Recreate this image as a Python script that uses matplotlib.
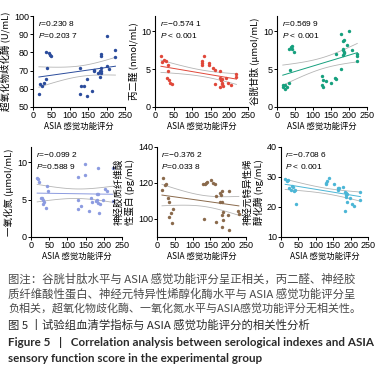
import numpy as np
import matplotlib
matplotlib.use("Agg")
import matplotlib.pyplot as plt

plt.rcParams['font.family'] = ['Noto Sans CJK SC', 'DejaVu Sans']
plt.rcParams['mathtext.fontset'] = 'custom'
plt.rcParams['mathtext.it'] = 'Liberation Sans:italic'
plt.rcParams['axes.unicode_minus'] = False

# data: ASIA score (x) vs serum marker (y)
sod_x = [16, 20, 25, 30, 36, 39, 35, 44, 46, 49, 129, 130, 138, 128, 147, 148, 159, 165, 166,
         177, 182, 184, 186, 182, 186, 186, 186, 200, 200, 207, 224, 222]
sod_y = [57, 62.4, 61.7, 63.3, 65.3, 71.2, 80, 79.7, 78.6, 78, 71.2, 61.3, 61.3, 57.2, 56, 65.5,
         59, 70.1, 69.6, 68.7, 69.6, 68.5, 69.8, 66.7, 71.6, 79.3, 78.2, 89, 72.5, 71, 81.3, 77.2]

mda_x = [16, 20, 25, 29, 34, 36, 31, 37, 40, 45, 125, 125, 125, 132, 144, 146, 155, 160, 160,
         176, 175, 177, 179, 178, 181, 180, 182, 176, 192, 195, 204, 219, 219]
mda_y = [6.7, 6.0, 6.2, 6.1, 5.5, 4.7, 3.8, 3.6, 3.2, 3.0, 6.1, 5.8, 5.6, 6.7, 5.8, 5.6, 5.2, 4.9,
         3.0, 4.7, 3.8, 3.6, 3.7, 3.5, 3.2, 3.0, 2.8, 2.6, 3.8, 3.2, 2.9, 3.9, 4.3]

gsh_x = [16, 18, 23, 27, 21, 33, 36, 32, 38, 41, 42, 46, 126, 128, 126, 129, 135, 149, 161, 163,
         163, 177, 179, 182, 184, 186, 183, 185, 184, 186, 200, 195, 207, 222, 223, 221]
gsh_y = [2.95, 2.7, 2.4, 2.7, 2.9, 3.2, 4.9, 7.6, 7.9, 8.0, 7.7, 7.2, 4.1, 3.5, 2.9, 2.7, 3.4, 3.1,
         3.8, 3.7, 7.0, 9.6, 5.0, 7.5, 7.7, 7.2, 6.9, 7.1, 8.7, 8.8, 10.0, 8.2, 7.5, 6.7, 6.1, 7.0]

no_x = [17, 20, 23, 27, 31, 34, 36, 32, 40, 43, 48, 128, 128, 128, 138, 149, 149, 160, 165, 168,
        178, 181, 185, 184, 180, 190, 183, 186, 199, 202, 209, 224, 224]
no_y = [7.9, 7.8, 7.3, 5.2, 5.2, 4.9, 4.7, 4.4, 3.9, 6.8, 6.1, 8.0, 5.0, 3.7, 4.1, 9.8, 8.3, 3.5,
        5.2, 4.7, 4.8, 4.9, 4.5, 5.7, 5.7, 4.4, 9.2, 3.2, 5.0, 6.4, 6.1, 9.2, 4.8]

gfap_x = [16, 14, 22, 25, 31, 33, 33, 38, 45, 42, 129, 134, 137, 140, 152, 156, 162, 166, 178,
          183, 181, 178, 183, 186, 183, 185, 183, 166, 202, 200, 202, 228, 230, 131]
gfap_y = [123, 116, 118.8, 119.7, 111.8, 109.6, 101, 103.1, 105.3, 97.6, 119.7, 119.4, 120.1,
          120.6, 121.6, 120.1, 119.2, 112.7, 114.7, 115.5, 113.3, 109.6, 109.2, 104.1, 102.2,
          99.4, 95.8, 98.5, 115.7, 102.2, 93.9, 104.6, 102.8, 100]

nse_x = [12, 17, 21, 24, 28, 36, 40, 31, 34, 43, 130, 132, 129, 138, 151, 163, 165, 167, 178,
         185, 187, 189, 186, 188, 191, 185, 199, 204, 211, 228, 226]
nse_y = [29.2, 28.8, 29.0, 26.2, 25.7, 25.4, 25.7, 27.1, 26.8, 20.9, 28.1, 28.6, 27.7, 29.7, 27.7,
         26.2, 25.7, 26.4, 26.8, 25.1, 24.8, 24.3, 24.0, 23.5, 21.8, 18.8, 22.9, 20.9, 20.2, 24.9,
         22.4]

r_texts = ['0.230 8', '\u22120.574 1', '0.569 9', '\u22120.099 2', '\u22120.376 2', '\u22120.708 6']
p_texts = ['=0.203 7', ' < 0.001', ' < 0.001', '=0.588 9', '=0.033 8', ' < 0.001']
y_labels = ['超氧化物歧化酶 (U/mL)', '丙二醛 (nmol/mL)', '谷胱甘肽 (μmol/mL)',
            '一氧化氮 (μmol/mL)', '神经胶质纤维酸\n性蛋白 (pg/mL)', '神经元特异性烯\n醇化酶 (ng/mL)']
y_ranges = [(50, 100), (0, 12), (0, 12), (0, 12), (90, 140), (10, 40)]
y_ticks = [[50, 60, 70, 80, 90, 100], [0, 5, 10], [0, 5, 10], [0, 5, 10], [100, 120, 140],
           [10, 20, 30, 40]]
colors = ['#2b4c9c', '#e0483a', '#16a07e', '#8c9be0', '#8a6a4c', '#4cb6d6']
xs = [sod_x, mda_x, gsh_x, no_x, gfap_x, nse_x]
ys = [sod_y, mda_y, gsh_y, no_y, gfap_y, nse_y]

# axes boxes in pixels (left, top, right, bottom)
boxes = [(33, 16, 125, 107), (155, 16, 248, 107), (277, 16, 367, 107),
         (31, 147, 122, 237), (157, 147, 246, 237), (281, 147, 368, 237)]

W, H = 391, 371
fig = plt.figure(figsize=(W / 100, H / 100), dpi=100)

for i in range(6):
    l, t, r, b = boxes[i]
    ax = fig.add_axes([l / W, 1 - b / H, (r - l) / W, (b - t) / H])
    x = np.array(xs[i], float)
    y = np.array(ys[i], float)
    ax.scatter(x, y, s=6, color=colors[i], linewidths=0, zorder=3)

    # linear fit with 95% confidence band
    n = len(x)
    k, c = np.polyfit(x, y, 1)
    xx = np.linspace(x.min(), x.max(), 100)
    yy = k * xx + c
    s = np.sqrt(np.sum((y - (k * x + c)) ** 2) / (n - 2))
    sxx = np.sum((x - x.mean()) ** 2)
    half = 2.04 * s * np.sqrt(1 / n + (xx - x.mean()) ** 2 / sxx)
    ax.plot(xx, yy, color=colors[i], lw=0.7, zorder=2)
    ax.plot(xx, yy + half, color='#b5b5b5', lw=0.6, zorder=1)
    ax.plot(xx, yy - half, color='#b5b5b5', lw=0.6, zorder=1)

    ax.set_xlim(0, 250)
    ax.set_ylim(*y_ranges[i])
    ax.set_xticks([0, 50, 100, 150, 200, 250])
    ax.set_yticks(y_ticks[i])
    for sp in ['top', 'right']:
        ax.spines[sp].set_visible(False)
    for sp in ['left', 'bottom']:
        ax.spines[sp].set_linewidth(0.8)
    ax.tick_params(labelsize=6.5, length=2, width=0.7, pad=1)
    for lab in ax.get_xticklabels() + ax.get_yticklabels():
        lab.set_family(['Liberation Sans', 'DejaVu Sans'])
    ax.set_xlabel('ASIA 感觉功能评分', fontsize=6, labelpad=1)
    ax.set_ylabel(y_labels[i], fontsize=6.8, labelpad=2, linespacing=1.1)

    ax.text(0.05, 0.97, '$r$=' + r_texts[i], transform=ax.transAxes, fontsize=6,
            va='top', family=['Liberation Sans', 'DejaVu Sans'])
    ax.text(0.05, 0.83, '$P$' + p_texts[i], transform=ax.transAxes, fontsize=6,
            va='top', family=['Liberation Sans', 'DejaVu Sans'])

# caption
note = ['图注：谷胱甘肽水平与 ASIA 感觉功能评分呈正相关，丙二醛、神经胶',
        '质纤维酸性蛋白、神经元特异性烯醇化酶水平与 ASIA 感觉功能评分呈',
        '负相关，超氧化物歧化酶、一氧化氮水平与ASIA感觉功能评分无相关性。']
note_sizes = [8.2, 8.2, 7.9]
for j, line in enumerate(note):
    fig.text(8 / W, 1 - (279 + 14.5 * j) / H, line, fontsize=note_sizes[j], color='#4a4a4a',
             va='center')
fig.text(8 / W, 1 - 325 / H, '图 5 丨试验组血清学指标与 ASIA 感觉功能评分的相关性分析',
         fontsize=8.2, color='#2a2a2a', va='center')
fig.text(8 / W, 1 - 343 / H,
         'Figure 5   |   Correlation analysis between serological indexes and ASIA',
         fontsize=8.4, color='#2a2a2a', va='center', weight='bold', family='Lato')
fig.text(8 / W, 1 - 358 / H, 'sensory function score in the experimental group',
         fontsize=8.4, color='#2a2a2a', va='center', weight='bold', family='Lato')

fig.savefig('out.png', dpi=100)
